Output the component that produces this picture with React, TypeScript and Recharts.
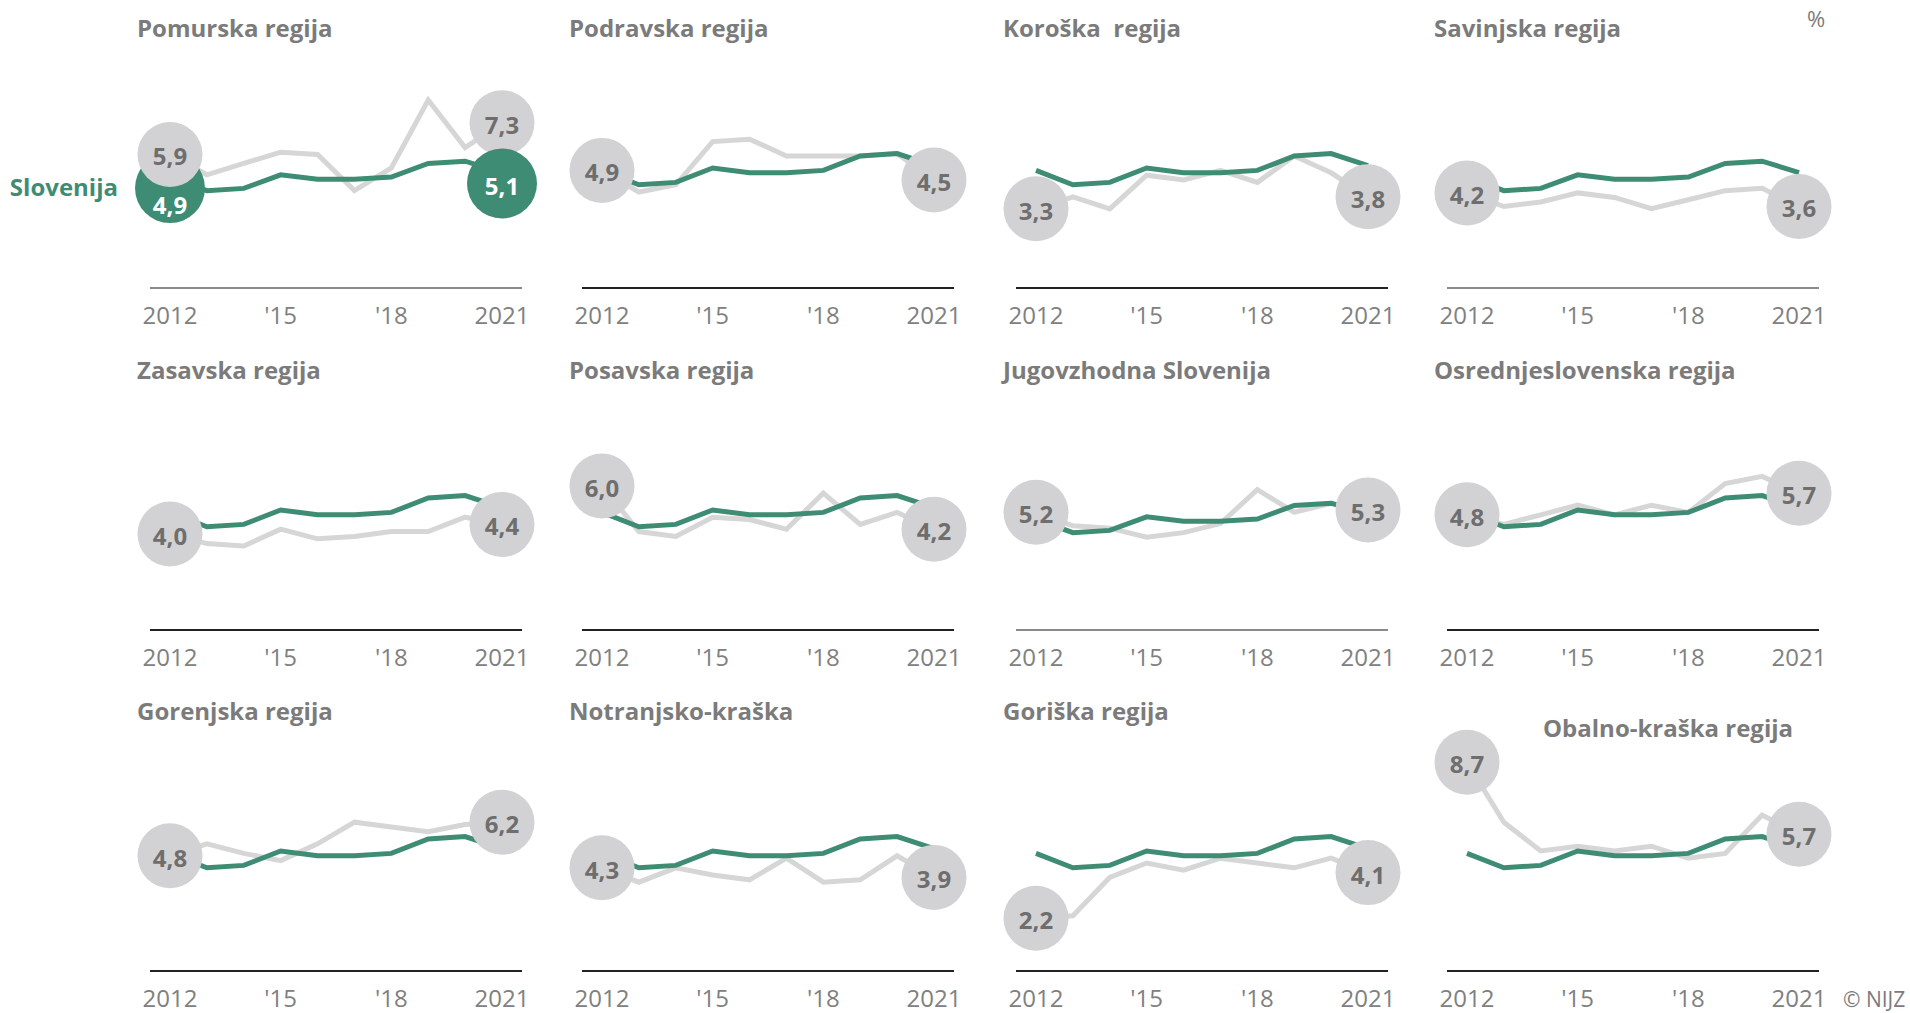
import React from 'react';
import { LineChart, Line, XAxis, YAxis } from 'recharts';

// ---------- data ----------
const YEARS = [2012, 2013, 2014, 2015, 2016, 2017, 2018, 2019, 2020, 2021];
const TICK_YEARS = [2012, 2015, 2018, 2021];
const TICK_LABELS = ['2012', "'15", "'18", '2021'];

const SLOVENIJA = [4.9, 4.3, 4.4, 5.0, 4.8, 4.8, 4.9, 5.5, 5.6, 5.1];
const SLOVENIJA_LABEL = 'Slovenija';

const REGION_NAMES = [
  'Pomurska regija',
  'Podravska regija',
  'Koroška  regija',
  'Savinjska regija',
  'Zasavska regija',
  'Posavska regija',
  'Jugovzhodna Slovenija',
  'Osrednjeslovenska regija',
  'Gorenjska regija',
  'Notranjsko-kraška',
  'Goriška regija',
  'Obalno-kraška regija',
];

const POMURSKA = [5.9, 5.0, 5.5, 6.0, 5.9, 4.3, 5.3, 8.3, 6.2, 7.3];
const PODRAVSKA = [4.9, 4.0, 4.3, 6.1, 6.2, 5.5, 5.5, 5.5, 5.6, 4.5];
const KOROSKA = [3.3, 3.8, 3.3, 4.7, 4.5, 4.9, 4.4, 5.5, 4.8, 3.8];
const SAVINJSKA = [4.2, 3.6, 3.8, 4.2, 4.0, 3.5, 3.9, 4.3, 4.4, 3.6];
const ZASAVSKA = [4.0, 3.6, 3.5, 4.2, 3.8, 3.9, 4.1, 4.1, 4.7, 4.4];
const POSAVSKA = [6.0, 4.1, 3.9, 4.7, 4.6, 4.2, 5.7, 4.4, 4.9, 4.2];
const JUGOVZHODNA = [5.2, 4.6, 4.5, 4.1, 4.3, 4.7, 6.2, 5.2, 5.6, 5.3];
const OSREDNJESLOVENSKA = [4.8, 4.4, 4.8, 5.2, 4.8, 5.2, 4.9, 6.1, 6.4, 5.7];
const GORENJSKA = [4.8, 5.3, 4.9, 4.6, 5.3, 6.2, 6.0, 5.8, 6.1, 6.2];
const NOTRANJSKO_KRASKA = [4.3, 3.7, 4.3, 4.0, 3.8, 4.7, 3.7, 3.8, 4.8, 3.9];
const GORISKA = [2.2, 2.3, 3.9, 4.5, 4.2, 4.7, 4.5, 4.3, 4.7, 4.1];
const OBALNO_KRASKA = [8.7, 6.2, 5.0, 5.2, 5.0, 5.2, 4.7, 4.9, 6.5, 5.7];

const REGION_VALUES = [
  POMURSKA, PODRAVSKA, KOROSKA, SAVINJSKA,
  ZASAVSKA, POSAVSKA, JUGOVZHODNA, OSREDNJESLOVENSKA,
  GORENJSKA, NOTRANJSKO_KRASKA, GORISKA, OBALNO_KRASKA,
];

const UNIT_LABEL = '%';
const SOURCE_LABEL = '© NIJZ';

// ---------- layout / style ----------
const W = 1910;
const H = 1013;
const COL_X = [150, 582, 1016, 1447]; // left end of each x-axis line
const ROW_Y = [288, 630, 971]; // y of each x-axis line
const AXIS_W = 372;
const PLOT_H = 240;
const CHART_W = 432;
const M_LEFT = 40;
const M_TOP = 8;
const XAXIS_H = 60;

// a few panels in the original are drawn at a slightly smaller vertical scale with a grey axis
const PANEL_YMAX = [10.6, 10, 10, 10.6, 10, 10, 10.6, 10, 10, 10, 10, 10];
const PANEL_AXIS = ['#8a8a8a', '#222', '#222', '#8a8a8a', '#222', '#222', '#8a8a8a', '#222', '#222', '#222', '#222', '#222'];

const GREEN = '#3f8c74';
const LINE_GREY = '#d6d6d6';
const BADGE_GREY = '#d2d2d4';
const BADGE_TEXT = '#6e6e6e';
const TEXT_GREY = '#7b7b7b';
const FONT = "'Open Sans', sans-serif";

const fmt = (v: number) => v.toFixed(1).replace('.', ',');
const LAST = YEARS.length - 1;

type BadgeOpts = {
  indices: number[];
  dataKey: string;
  r: number;
  fill: string;
  color: string;
  shiftY: number;
  textShift: number;
};

function makeBadge(o: BadgeOpts) {
  return (props: any) => {
    const { cx, cy, index, payload } = props;
    if (!o.indices.includes(index) || cx == null || cy == null) {
      return <g key={`e-${o.dataKey}-${index}`} />;
    }
    const y = cy + o.shiftY;
    return (
      <g key={`b-${o.dataKey}-${index}`}>
        <circle cx={cx} cy={y} r={o.r} fill={o.fill} />
        <text
          x={cx}
          y={y + 11 + o.textShift}
          textAnchor="middle"
          fontSize={24}
          fontWeight={700}
          fill={o.color}
          fontFamily={FONT}
        >
          {fmt(payload[o.dataKey])}
        </text>
      </g>
    );
  };
}

const regionBadge = makeBadge({
  indices: [0, LAST], dataKey: 'region', r: 32.5, fill: BADGE_GREY, color: BADGE_TEXT, shiftY: 0, textShift: 0,
});
const sloFirstBadge = makeBadge({
  indices: [0], dataKey: 'slo', r: 35, fill: GREEN, color: '#ffffff', shiftY: 11, textShift: 15,
});
const sloLastBadge = makeBadge({
  indices: [LAST], dataKey: 'slo', r: 35, fill: GREEN, color: '#ffffff', shiftY: 11, textShift: 0,
});

function Panel({ idx }: { idx: number }) {
  const col = idx % 4;
  const row = Math.floor(idx / 4);
  const values = REGION_VALUES[idx];
  const data = YEARS.map((year, i) => ({ year, region: values[i], slo: SLOVENIJA[i] }));
  const left = COL_X[col] - M_LEFT;
  const top = ROW_Y[row] - PLOT_H - M_TOP;
  const withSlo = idx === 0;
  return (
    <div style={{ position: 'absolute', left, top }}>
      <LineChart
        width={CHART_W}
        height={M_TOP + PLOT_H + XAXIS_H}
        data={data}
        margin={{ top: M_TOP, right: CHART_W - M_LEFT - AXIS_W, bottom: 0, left: M_LEFT }}
      >
        <XAxis
          dataKey="year"
          type="number"
          domain={[2012, 2021]}
          ticks={TICK_YEARS}
          interval={0}
          tickFormatter={(v: number) => TICK_LABELS[TICK_YEARS.indexOf(v)]}
          padding={{ left: 20, right: 20 }}
          axisLine={{ stroke: PANEL_AXIS[idx], strokeWidth: 2 }}
          tickLine={false}
          tickSize={0}
          tickMargin={19}
          height={XAXIS_H}
          tick={{ fill: '#808080', fontSize: 24, fontFamily: FONT }}
        />
        <YAxis hide width={0} type="number" domain={[0, PANEL_YMAX[idx]]} />
        <Line
          dataKey="region"
          type="linear"
          stroke={LINE_GREY}
          strokeWidth={5}
          dot={false}
          activeDot={false}
          isAnimationActive={false}
        />
        <Line
          dataKey="slo"
          type="linear"
          stroke={GREEN}
          strokeWidth={5}
          dot={false}
          activeDot={false}
          isAnimationActive={false}
        />
        {withSlo && (
          <Line dataKey="slo" stroke="none" dot={sloFirstBadge} activeDot={false} isAnimationActive={false} />
        )}
        <Line dataKey="region" stroke="none" dot={regionBadge} activeDot={false} isAnimationActive={false} />
        {withSlo && (
          <Line dataKey="slo" stroke="none" dot={sloLastBadge} activeDot={false} isAnimationActive={false} />
        )}
      </LineChart>
    </div>
  );
}

export default function App() {
  return (
    <div
      style={{
        position: 'absolute',
        left: 0,
        top: 0,
        width: W,
        height: H,
        background: '#ffffff',
        overflow: 'hidden',
        fontFamily: FONT,
      }}
    >
      {REGION_NAMES.map((_, i) => (
        <Panel key={i} idx={i} />
      ))}
      <svg width={W} height={H} style={{ position: 'absolute', left: 0, top: 0, pointerEvents: 'none' }}>
        {REGION_NAMES.map((name, i) => {
          const col = i % 4;
          const row = Math.floor(i / 4);
          const isLast = i === REGION_NAMES.length - 1;
          const x = isLast ? 1543 : COL_X[col] - 13;
          const y = isLast ? 737 : ROW_Y[row] - 251;
          return (
            <text
              key={name}
              x={x}
              y={y}
              fontSize={24}
              fontWeight={700}
              fill={TEXT_GREY}
              fontFamily={FONT}
              style={{ whiteSpace: 'pre' }}
            >
              {name}
            </text>
          );
        })}
        <text x={118} y={196} textAnchor="end" fontSize={24} fontWeight={700} fill={GREEN} fontFamily={FONT}>
          {SLOVENIJA_LABEL}
        </text>
        <text x={1807} y={27} fontSize={22} fill={TEXT_GREY} fontFamily={FONT}>
          {UNIT_LABEL}
        </text>
        <text x={1843} y={1007} fontSize={21} fill={TEXT_GREY} fontFamily={FONT}>
          {SOURCE_LABEL}
        </text>
      </svg>
    </div>
  );
}
